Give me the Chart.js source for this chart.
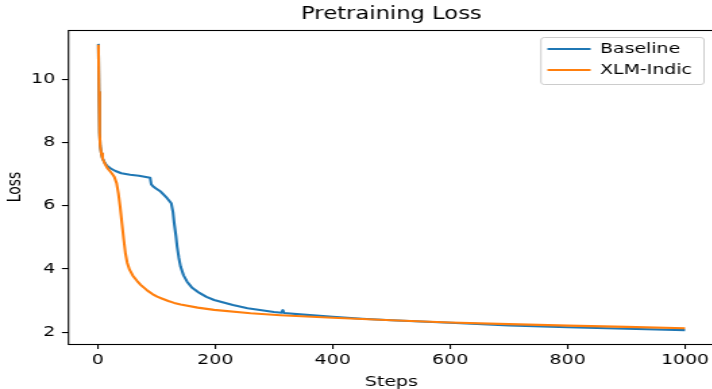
<!DOCTYPE html>
<html><head><meta charset="utf-8">
<script src="https://cdn.jsdelivr.net/npm/chart.js@4"></script>
<style>
html,body{margin:0;padding:0;overflow:hidden;background:#fff;width:712px;height:389px}
#wrap{width:532px;height:389px;transform:scaleX(1.35);transform-origin:0 0}
canvas{display:block}
</style>
</head><body>
<div id="wrap"><canvas id="c" width="532" height="389"></canvas></div>
<script>
const chartTitle = "Pretraining Loss";
const seriesNames = ["Baseline", "XLM-Indic"];
const baselineSteps = [1, 2, 3, 4, 6, 8, 12, 16, 22, 30, 40, 55, 70, 89, 91, 95, 99, 107, 118, 125, 128, 130, 133, 135, 138, 141, 146, 152, 160, 170, 185, 198, 230, 255, 300, 313, 315, 317, 350, 400, 450, 500, 550, 600, 700, 800, 900, 1000];
const baselineLoss  = [11.12, 9.6, 8.3, 7.9, 7.65, 7.5, 7.35, 7.26, 7.18, 7.1, 7.03, 6.98, 6.95, 6.89, 6.68, 6.6, 6.55, 6.45, 6.24, 6.08, 5.8, 5.45, 5.05, 4.71, 4.35, 4.07, 3.8, 3.6, 3.42, 3.28, 3.12, 3.02, 2.86, 2.76, 2.64, 2.62, 2.70, 2.61, 2.56, 2.49, 2.43, 2.38, 2.34, 2.30, 2.22, 2.16, 2.11, 2.07];
const xlmSteps = [1, 2, 3, 4, 6, 8, 12, 16, 19, 24, 28, 32, 35, 38, 41, 44, 47, 50, 54, 60, 67, 73, 85, 93, 101, 110, 120, 130, 141, 170, 198, 260, 311, 400, 500, 600, 700, 800, 900, 1000];
const xlmLoss  = [11.09, 9.6, 8.3, 7.9, 7.65, 7.5, 7.33, 7.2, 7.13, 7.02, 6.92, 6.71, 6.39, 5.97, 5.45, 4.95, 4.5, 4.2, 3.98, 3.78, 3.62, 3.50, 3.31, 3.21, 3.13, 3.06, 2.99, 2.93, 2.88, 2.78, 2.71, 2.60, 2.54, 2.46, 2.38, 2.31, 2.26, 2.21, 2.17, 2.13];
const xTicks = [0, 200, 400, 600, 800, 1000];
const yTicks = [2, 4, 6, 8, 10];
const xLabel = "Steps";
const yLabel = "Loss";

const FONT = "'DejaVu Sans', sans-serif";

const framePlugin = {
  id: 'frame',
  afterDatasetsDraw(chart) {
    const {ctx, chartArea: a} = chart;
    ctx.save();
    ctx.strokeStyle = '#000';
    ctx.lineWidth = 1.1;
    ctx.strokeRect(a.left, Math.round(a.top) + 0.5, a.right - a.left, Math.round(a.bottom) - Math.round(a.top));
    ctx.restore();
  }
};

const legendPlace = {
  id: 'legendPlace',
  afterLayout(chart) {
    const lg = chart.legend;
    if (!lg) return;
    lg.left = 398.5; lg.top = 35;
    lg.right = lg.left + lg.width; lg.bottom = lg.top + lg.height;
  },
  afterDraw(chart) {
    const {ctx} = chart;
    ctx.save();
    ctx.strokeStyle = '#cccccc';
    ctx.lineWidth = 1;
    const x = 400.7, y = 37.5, w = 120.8, h = 47, r = 2.5;
    ctx.beginPath();
    ctx.moveTo(x + r, y);
    ctx.arcTo(x + w, y, x + w, y + h, r);
    ctx.arcTo(x + w, y + h, x, y + h, r);
    ctx.arcTo(x, y + h, x, y, r);
    ctx.arcTo(x, y, x + w, y, r);
    ctx.closePath();
    ctx.stroke();
    ctx.restore();
  }
};

new Chart(document.getElementById('c'), {
  type: 'line',
  data: {
    datasets: [
      {
        label: seriesNames[0],
        data: baselineSteps.map((s, i) => ({x: s, y: baselineLoss[i]})),
        borderColor: '#1f77b4', backgroundColor: '#1f77b4',
        borderWidth: 2.1, borderJoinStyle: 'round', borderCapStyle: 'butt',
        pointRadius: 0, tension: 0, order: 1
      },
      {
        label: seriesNames[1],
        data: xlmSteps.map((s, i) => ({x: s, y: xlmLoss[i]})),
        borderColor: '#ff7f0e', backgroundColor: '#ff7f0e',
        borderWidth: 2.1, borderJoinStyle: 'round', borderCapStyle: 'butt',
        pointRadius: 0, tension: 0, order: 0
      }
    ]
  },
  options: {
    responsive: false,
    animation: false,
    devicePixelRatio: 1,
    layout: {padding: {left: 0, right: 2.8, top: 0, bottom: 0}},
    plugins: {
      tooltip: {enabled: false},
      title: {
        display: true, text: chartTitle, fullSize: false,
        color: '#000', font: {family: FONT, size: 16.8, weight: 'normal', lineHeight: 1.2},
        padding: {top: 5, bottom: 4.8}
      },
      legend: {
        position: 'chartArea', align: 'start',
        labels: {
          font: {family: FONT, size: 14}, color: '#000',
          boxWidth: 32, boxHeight: 2, padding: 7,
          sort: (a, b) => a.datasetIndex - b.datasetIndex,
          generateLabels(chart) {
            const items = Chart.defaults.plugins.legend.labels.generateLabels(chart);
            items.forEach(it => { it.lineWidth = 0; it.fillStyle = it.strokeStyle; });
            return items;
          }
        }
      }
    },
    scales: {
      x: {
        type: 'linear', min: -50, max: 1050,
        afterBuildTicks(s) { s.ticks = xTicks.map(v => ({value: v})); },
        afterFit(s) { s.height = 45; },
        grid: {display: true, drawOnChartArea: false, drawTicks: true, tickLength: 4.9, color: '#000', lineWidth: 1.1},
        border: {display: false},
        ticks: {font: {family: FONT, size: 14}, color: '#000', padding: 3.5, maxRotation: 0, autoSkip: false,
                callback: v => String(v)},
        title: {display: true, text: xLabel, color: '#000', font: {family: FONT, size: 14, lineHeight: 1}, padding: {top: 0, bottom: 0}}
      },
      y: {
        type: 'linear', min: 1.63, max: 11.56,
        afterBuildTicks(s) { s.ticks = yTicks.map(v => ({value: v})); },
        afterFit(s) { s.width = 50.7; },
        grid: {display: true, drawOnChartArea: false, drawTicks: true, tickLength: 4.9, color: '#000', lineWidth: 1.1},
        border: {display: false},
        ticks: {font: {family: FONT, size: 14}, color: '#000', padding: 4.9, autoSkip: false,
                callback: v => String(v)},
        title: {display: true, text: yLabel, color: '#000', font: {family: FONT, size: 14, lineHeight: 1.2}, padding: {top: 3.3, bottom: 0}}
      }
    }
  },
  plugins: [framePlugin, legendPlace]
});
</script>
</body></html>
